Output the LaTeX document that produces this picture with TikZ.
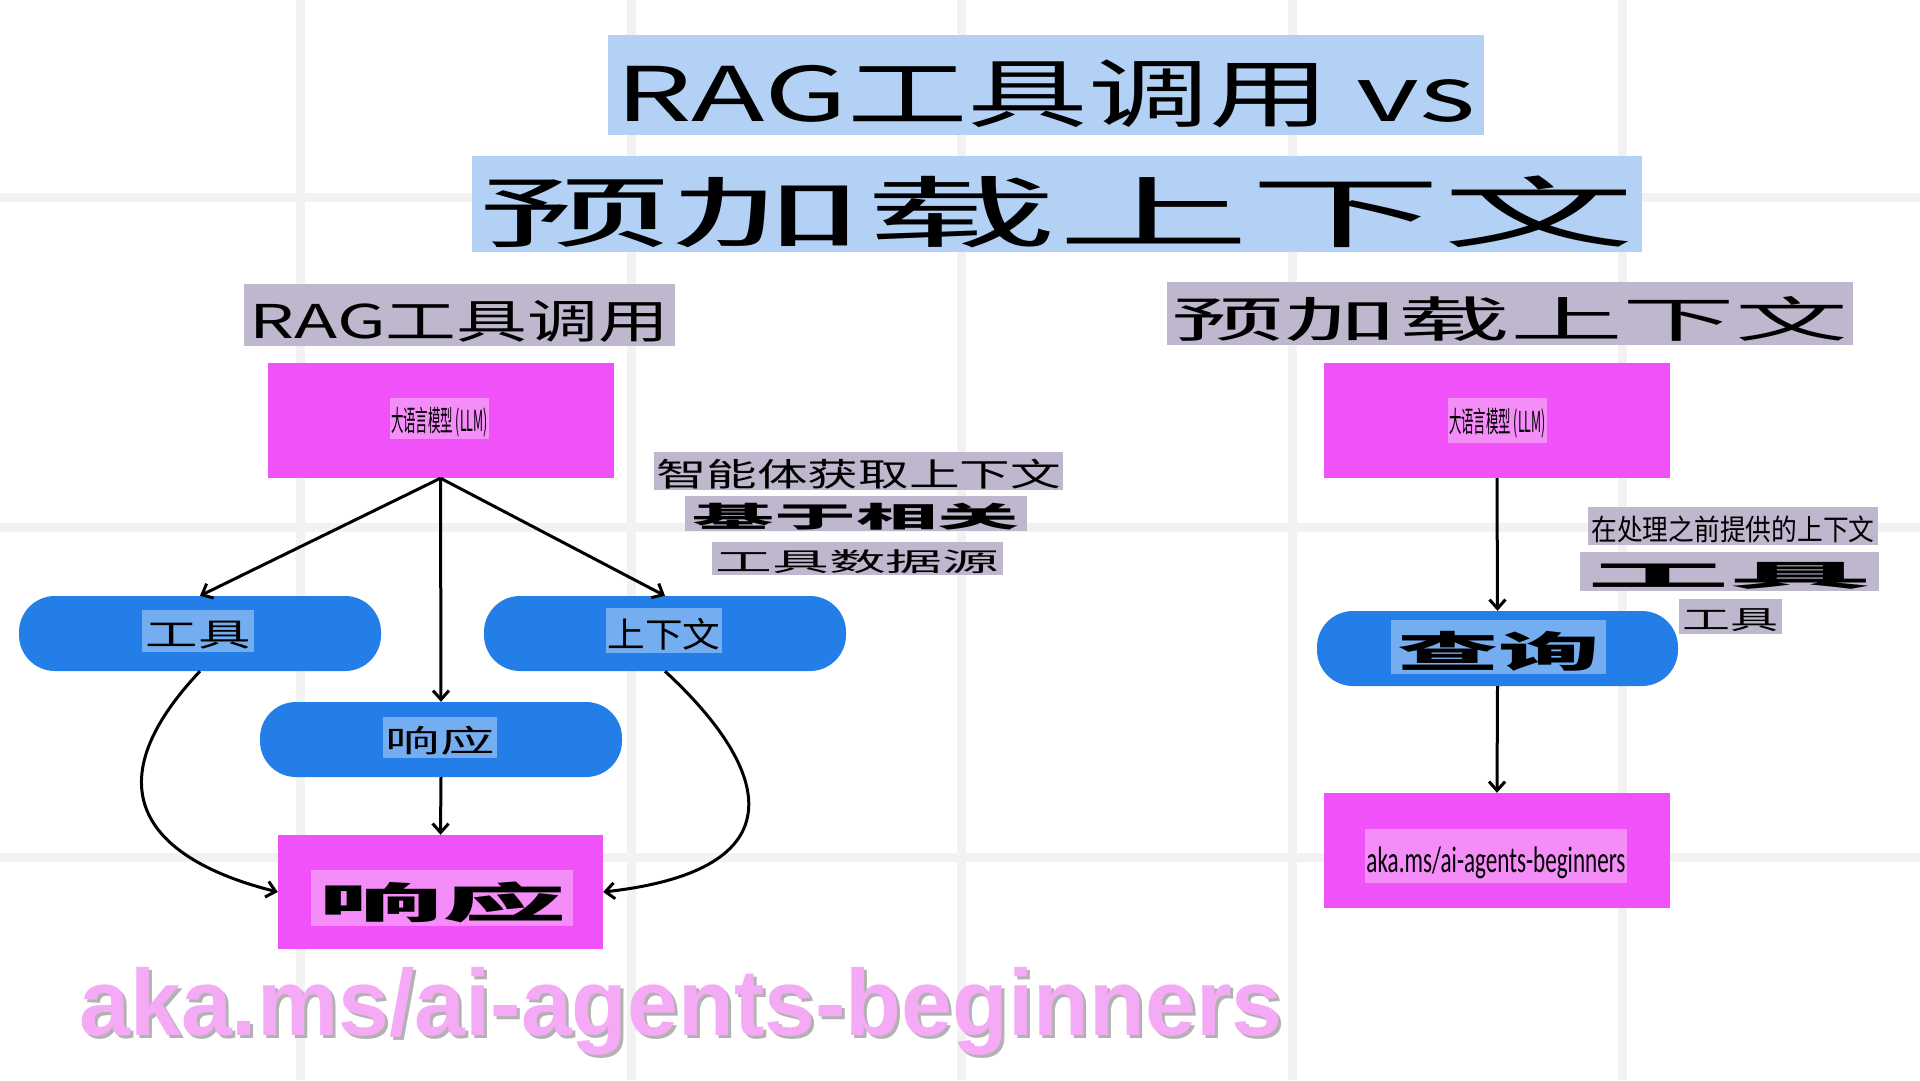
\documentclass[tikz,border=0pt]{standalone}
\usepackage{fontspec}
\setmainfont{Noto Sans CJK SC}
\newfontfamily\wmfont{Liberation Sans}
\newfontfamily\urlfont{Carlito}
\usetikzlibrary{arrows.meta, positioning}

\definecolor{gridgray}{HTML}{F2F2F2}
\definecolor{titleblue}{HTML}{B3D1F4}
\definecolor{notegray}{HTML}{BFB7CD}
\definecolor{llmpink}{HTML}{F151F8}
\definecolor{lightpink}{HTML}{F48DF8}
\definecolor{pillblue}{HTML}{237EE8}
\definecolor{lightblue}{HTML}{75AEF0}
\definecolor{wmpink}{HTML}{F5AAF5}

% squeeze a text into a given ink box (width, total height),
% optional first argument drops the ink below the node centre
\newcommand{\fitto}[4][0]{%
    \raisebox{0pt}[\dimexpr\height+#1pt\relax][\dimexpr\depth-#1pt\relax]{%
        \resizebox*{#2pt}{#3pt}{#4}}}

\begin{document}
\begin{tikzpicture}[
        x=1pt,
        y=-1pt,
        gridline/.style={
            gridgray,
            line width=9pt
        },
        llmbox/.style={
            rectangle,
            fill=llmpink,
            inner sep=0pt,
            minimum width=346pt,
            minimum height=115pt
        },
        pill/.style={
            rectangle,
            rounded corners=36pt,
            fill=pillblue,
            inner sep=0pt,
            minimum width=362pt,
            minimum height=75pt
        },
        tag/.style={
            rectangle,
            inner sep=0pt
        },
        link/.style={
            -{Straight Barb[length=9pt,width=16pt]},
            line width=3pt,
            black
        }
    ]

    \useasboundingbox (0,0) rectangle (1920,1080);
    \fill[white] (0,0) rectangle (1920,1080);

    % --------------------------------------------------------
    % Background grid
    % --------------------------------------------------------

    \foreach \gx in {300,631,961,1292,1622} {
        \draw[gridline] (\gx,0) -- (\gx,1080);
    }

    \foreach \gy in {197,527,857} {
        \draw[gridline] (0,\gy) -- (1920,\gy);
    }

    % --------------------------------------------------------
    % Title
    % --------------------------------------------------------

    \node[tag, fill=titleblue, minimum width=876pt, minimum height=100pt]
    (titleA) at (1046,85)
    {\fitto[11]{860}{68}{RAG工具调用 vs}};

    \node[tag, fill=titleblue, minimum width=1170pt, minimum height=96pt]
    (titleB) at (1057,204)
    {\fitto[10]{1157}{72}{预加载上下文}};

    % --------------------------------------------------------
    % Left: RAG tool calling
    % --------------------------------------------------------

    \node[tag, fill=notegray, minimum width=431pt, minimum height=62pt]
    (subL) at (459.5,315)
    {\fitto[8]{419}{42}{RAG工具调用}};

    \node[llmbox] (llmL) at (440.5,420.5) {};
    \node[tag, fill=lightpink, minimum width=99pt, minimum height=41pt]
    (llmLtxt) at (439.5,418.5)
    {\fitto[3.5]{97}{30}{大语言模型 (LLM)}};

    \node[pill] (toolP) at (200,633.5) {};
    \node[tag, fill=lightblue, minimum width=112pt, minimum height=42pt]
    (toolPtxt) at (198,631)
    {\fitto[5]{105}{28}{工具}};

    \node[pill] (ctxP) at (665,633.5) {};
    \node[tag, fill=lightblue, minimum width=116pt, minimum height=45pt]
    (ctxPtxt) at (664,630.5)
    {\fitto[5.5]{113}{32}{上下文}};

    \node[pill] (respP) at (441,739.5) {};
    \node[tag, fill=lightblue, minimum width=114pt, minimum height=41pt]
    (respPtxt) at (440,737.5)
    {\fitto[4]{109}{29}{响应}};

    \node[llmbox, minimum width=325pt, minimum height=114pt]
    (respB) at (440.5,892) {};
    \node[tag, fill=lightpink, minimum width=262pt, minimum height=56pt]
    (respBtxt) at (442,898)
    {\fitto[4.5]{248}{41}{\bfseries 响应}};

    % notes beside the arrows
    \node[tag, fill=notegray, minimum width=409pt, minimum height=38pt]
    (noteA) at (858.5,471)
    {\fitto[4]{405}{30}{智能体获取上下文}};

    \node[tag, fill=notegray, minimum width=342pt, minimum height=35pt]
    (noteB) at (856,513.5)
    {\fitto[3]{327}{27}{\bfseries 基于相关}};

    \node[tag, fill=notegray, minimum width=291pt, minimum height=33pt]
    (noteC) at (857.5,558.5)
    {\fitto[3.5]{284}{24}{工具数据源}};

    \draw[link] (llmL.south) -- (toolP.north);
    \draw[link] (llmL.south) -- (respP.north);
    \draw[link] (llmL.south) -- (ctxP.north);
    \draw[link] (respP.south) -- (respB.north);

    \draw[link]
    (toolP.south)
    .. controls (88,790) and (150,860) ..
    (respB.west);

    \draw[link]
    (ctxP.south)
    .. controls (772,770) and (800,870) ..
    (respB.east);

    % --------------------------------------------------------
    % Right: preloaded context
    % --------------------------------------------------------

    \node[tag, fill=notegray, minimum width=686pt, minimum height=63pt]
    (subR) at (1510,313.5)
    {\fitto[6]{677}{45}{预加载上下文}};

    \node[llmbox] (llmR) at (1497,420.5) {};
    \node[tag, fill=lightpink, minimum width=99pt, minimum height=45pt]
    (llmRtxt) at (1497.5,420.5)
    {\fitto[2.5]{97}{30}{大语言模型 (LLM)}};

    \node[pill, minimum width=361pt] (queryP) at (1497.5,648.5) {};
    \node[tag, fill=lightblue, minimum width=215pt, minimum height=54pt]
    (queryPtxt) at (1498.5,647)
    {\fitto[5]{203}{40}{\bfseries 查询}};

    \node[llmbox] (urlB) at (1497,850.5) {};
    \node[tag, fill=lightpink, minimum width=262pt, minimum height=54pt]
    (urlBtxt) at (1496,856)
    {\fitto[7.5]{259}{32}{\urlfont aka.ms/ai-agents-beginners}};

    \node[tag, fill=notegray, minimum width=290pt, minimum height=38pt]
    (noteD) at (1733,526)
    {\fitto[4.5]{283}{27}{在处理之前提供的上下文}};

    \node[tag, fill=notegray, minimum width=299pt, minimum height=39pt]
    (noteE) at (1729.5,571.5)
    {\fitto[5]{284}{27}{\bfseries 工具}};

    \node[tag, fill=notegray, minimum width=103pt, minimum height=35pt]
    (noteF) at (1730.5,616.5)
    {\fitto[5]{96}{23}{工具}};

    \draw[link] (llmR.south) -- (queryP.north);
    \draw[link] (queryP.south) -- (urlB.north);

    % --------------------------------------------------------
    % Watermark
    % --------------------------------------------------------

    \node[tag, text=black!30] (wmshadow) at (684,1014)
    {\fitto{1202}{88}{\wmfont\bfseries aka.ms/ai-agents-beginners}};

    \node[tag, text=wmpink] (wm) at (681,1011)
    {\fitto{1202}{88}{\wmfont\bfseries aka.ms/ai-agents-beginners}};

\end{tikzpicture}
\end{document}
